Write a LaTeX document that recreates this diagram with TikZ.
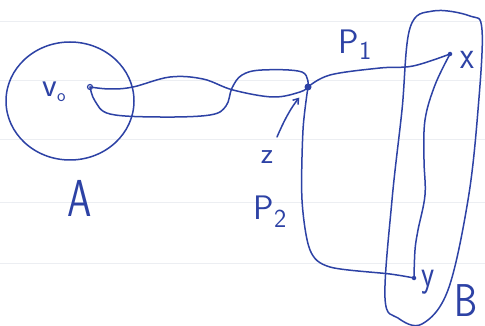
\documentclass[tikz,border=0pt]{standalone}
\usetikzlibrary{arrows.meta}
\definecolor{ink}{RGB}{45,66,165}
\definecolor{rule}{RGB}{236,238,242}
\begin{document}
\begin{tikzpicture}[x=1pt,y=-1pt,
  pen/.style={draw=ink,line width=1.5pt,line cap=round,line join=round},
  opendot/.style={circle,draw=ink,line width=1.2pt,fill=white,inner sep=0pt,minimum size=5pt},
  fulldot/.style={circle,fill=ink,inner sep=0pt,minimum size=7pt},
  smalldot/.style={circle,fill=ink,inner sep=0pt,minimum size=4.5pt},
  lab/.style={text=ink,inner sep=0pt,font=\sffamily}]
\useasboundingbox (0,0) rectangle (485,326);
\fill[white] (0,0) rectangle (485,326);
\foreach \yy in {22,81,140,203,263} \draw[rule,line width=1pt] (0,\yy) -- (485,\yy);
% region A
\draw[pen] (70,101) ellipse [x radius=64, y radius=59];
% vertices
\node[opendot] (v0) at (90,87) {};
\node[fulldot] (z) at (308,87) {};
\node[smalldot] (x) at (450,54) {};
\node[smalldot] (y) at (414,278) {};
% two walks v0 -> z
\draw[pen] plot[smooth,tension=0.6] coordinates {(v0) (110,89) (133,87) (170,77) (203,79) (233,90) (273,97) (300,92) (z)};
\draw[pen] plot[smooth,tension=0.6] coordinates {(v0) (95,101) (110,114) (160,117) (210,115) (226,106) (232,88) (242,75) (262,70) (302,72) (z)};
% P1 and P2
\draw[pen] plot[smooth,tension=0.6] coordinates {(z) (330,75) (380,68) (413,66) (x)};
\draw[pen] plot[smooth,tension=0.5] coordinates {(z) (303,130) (302,200) (310,250) (330,267) (390,274) (y)};
% walk x -> y
\draw[pen] plot[smooth,tension=0.6] coordinates {(x) (435,85) (425,120) (424,160) (425,195) (418,230) (415,250) (y)};
% region B
\draw[pen] plot[smooth cycle,tension=0.6] coordinates {(410,28) (433,11) (470,16) (482,30) (478,110) (468,200) (448,290) (422,324) (398,318) (385,298) (392,200) (402,110)};
% arrow to z
\coordinate (zarrow) at (277,137);
\draw[pen,-{Straight Barb[length=5pt,width=7pt]},shorten >=10pt] (zarrow) to[bend left=8] (z);
% labels
\node[lab,font=\sffamily\fontsize{34}{34}\selectfont] (lv) at (54,92) {v\raisebox{-5pt}{\fontsize{18}{18}\selectfont o}};
\node[lab,font=\sffamily\fontsize{52}{52}\selectfont,xscale=0.75] (lA) at (80,198) {A};
\node[lab,font=\sffamily\fontsize{46}{46}\selectfont,xscale=0.8] (lB) at (466,301) {B};
\node[lab,font=\sffamily\fontsize{30}{30}\selectfont] (lz) at (267,157) {z};
\node[lab,font=\sffamily\fontsize{34}{34}\selectfont] (lP1) at (355,45) {P\raisebox{-6pt}{\fontsize{26}{26}\selectfont 1}};
\node[lab,font=\sffamily\fontsize{34}{34}\selectfont] (lP2) at (270,212) {P\raisebox{-8pt}{\fontsize{26}{26}\selectfont 2}};
\node[lab,font=\sffamily\fontsize{40}{40}\selectfont,xscale=0.8] (lx) at (467,60) {x};
\node[lab,font=\sffamily\fontsize{38}{38}\selectfont,xscale=0.8] (ly) at (428,282) {y};
\end{tikzpicture}
\end{document}
